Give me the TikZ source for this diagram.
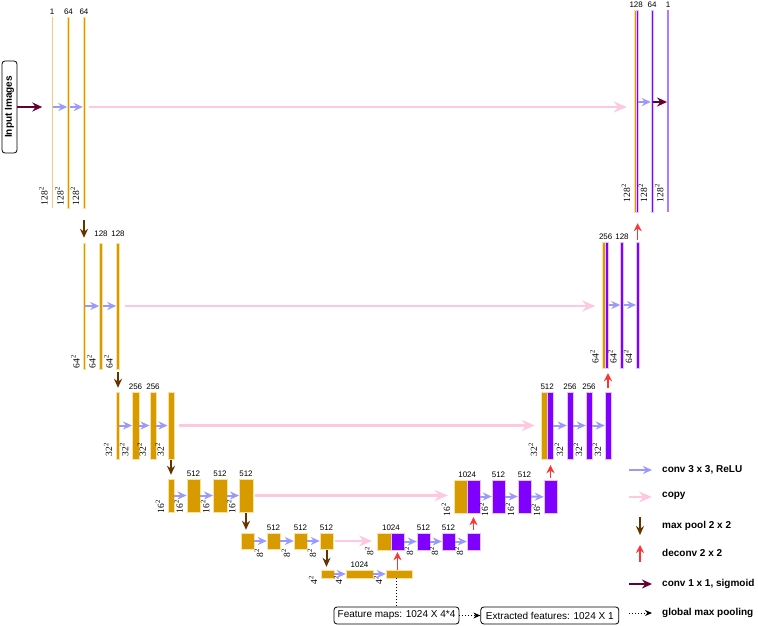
\documentclass[tikz,border=0pt]{standalone}
\usepackage{fontspec}
\setmainfont{Liberation Sans}
\newfontfamily\szfont{Liberation Serif}
\usetikzlibrary{arrows.meta,positioning,calc}
\definecolor{encfill}{RGB}{215,155,0}
\definecolor{encline}{RGB}{250,225,160}
\definecolor{enclight}{RGB}{236,205,120}
\definecolor{decfill}{RGB}{127,0,255}
\definecolor{decline}{RGB}{225,195,255}
\definecolor{declight}{RGB}{180,120,255}
\definecolor{convcol}{RGB}{153,153,255}
\definecolor{skipcol}{RGB}{255,200,225}
\definecolor{poolcol}{RGB}{102,51,0}
\definecolor{upcol}{RGB}{255,51,51}
\definecolor{sigcol}{RGB}{102,0,51}
\newcommand{\sizelab}[3]{\node[sz] (#1-sz) at ($(#1.south west)+(-3.5,#3)$) {#2\textsuperscript{2}};}

\begin{document}
\begin{tikzpicture}[x=1pt,y=-1pt,
  enc/.style={fill=encfill,draw=encline,line width=0.4pt,inner sep=0pt},
  dec/.style={fill=decfill,draw=decline,line width=0.4pt,inner sep=0pt},
  num/.style={font=\fontsize{8}{8}\selectfont,inner sep=1pt},
  sz/.style={font=\szfont\fontsize{9.5}{10}\selectfont,rotate=90,anchor=south west,inner sep=0pt},
  conv/.style={convcol,line width=2pt,-{Stealth[length=9pt,width=8pt]}},
  skip/.style={skipcol,line width=2.5pt,-{Stealth[length=13pt,width=11pt]}},
  pool/.style={poolcol,line width=2pt,-{Stealth[length=9pt,width=8pt]}},
  upconv/.style={upcol,line width=1.5pt,-{Stealth[length=8pt,width=8pt]}},
  sigm/.style={sigcol,line width=2pt,-{Stealth[length=10pt,width=9pt]}},
  gmp/.style={black,line width=1pt,dotted,-{Stealth[length=7pt,width=6pt]}},
  box/.style={draw,rounded corners=3pt,line width=0.8pt,minimum height=17pt,inner sep=2pt,font=\fontsize{10}{10}\selectfont},
  legend/.style={anchor=west,font=\bfseries\fontsize{10}{10}\selectfont,inner sep=0pt}]
  \useasboundingbox (0,0) rectangle (758,626);

  % input
  \node[draw,rounded corners=3pt,line width=0.8pt,minimum width=15pt,minimum height=92pt,inner sep=0pt,
        font=\bfseries\fontsize{10}{10}\selectfont] (inp) at (9.5,107) {\rotatebox{90}{Input Images}};
  \coordinate (row1r) at (0,102);

  % level 128
  \node[enc,fill=enclight,draw=none,minimum width=1pt,minimum height=191pt] (a1) at (52,112.5) {};
  \node[enc,minimum width=2pt,minimum height=191pt] (a2) at (68.5,112.5) {};
  \node[enc,minimum width=2pt,minimum height=191pt] (a3) at (84,112.5) {};
  \node[enc,minimum width=2pt,minimum height=202pt] (o1) at (635,111) {};
  \node[dec,minimum width=2pt,minimum height=202pt] (p1) at (637,111) {};
  \node[dec,minimum width=2pt,minimum height=202pt] (p2) at (652,111) {};
  \node[dec,fill=declight,draw=none,minimum width=1.5pt,minimum height=202pt] (p3) at (668,111) {};

  % level 64
  \node[enc,minimum width=1.5pt,minimum height=126pt] (b1) at (84.3,306) {};
  \node[enc,minimum width=3pt,minimum height=126pt] (b2) at (101,306) {};
  \node[enc,minimum width=3pt,minimum height=126pt] (b3) at (118,306) {};
  \node[enc,minimum width=3pt,minimum height=126pt] (o2) at (604,305) {};
  \node[dec,minimum width=3pt,minimum height=126pt] (q1) at (607,305) {};
  \node[dec,minimum width=3pt,minimum height=126pt] (q2) at (622,305) {};
  \node[dec,minimum width=3pt,minimum height=126pt] (q3) at (637.7,305) {};

  % level 32
  \node[enc,minimum width=3pt,minimum height=67pt] (c1) at (117.7,425.5) {};
  \node[enc,minimum width=6.5pt,minimum height=67pt] (c2) at (135.5,425.5) {};
  \node[enc,minimum width=6.5pt,minimum height=67pt] (c3) at (153,425.5) {};
  \node[enc,minimum width=6.5pt,minimum height=67pt] (c4) at (171,425.5) {};
  \node[enc,minimum width=6pt,minimum height=67pt] (o3) at (544,425.5) {};
  \node[dec,minimum width=6pt,minimum height=67pt] (r1) at (550,425.5) {};
  \node[dec,minimum width=6pt,minimum height=67pt] (r2) at (570,425.5) {};
  \node[dec,minimum width=6pt,minimum height=67pt] (r3) at (589,425.5) {};
  \node[dec,minimum width=6pt,minimum height=67pt] (r4) at (608,425.5) {};

  % level 16
  \node[enc,minimum width=6pt,minimum height=33pt] (d1) at (171,495.5) {};
  \node[enc,minimum width=13.5pt,minimum height=33pt] (d2) at (193.5,495.5) {};
  \node[enc,minimum width=13.5pt,minimum height=33pt] (d3) at (220,495.5) {};
  \node[enc,minimum width=13.5pt,minimum height=33pt] (d4) at (246,495.5) {};
  \node[enc,minimum width=13pt,minimum height=33pt] (o4) at (460.5,496.5) {};
  \node[dec,minimum width=13pt,minimum height=33pt] (s1) at (473.5,496.5) {};
  \node[dec,minimum width=13pt,minimum height=33pt] (s2) at (498.5,496.5) {};
  \node[dec,minimum width=13pt,minimum height=33pt] (s3) at (524.5,496.5) {};
  \node[dec,minimum width=13pt,minimum height=33pt] (s4) at (550.5,497) {};

  % level 8
  \node[enc,minimum width=13pt,minimum height=16pt] (e1) at (247.5,541) {};
  \node[enc,minimum width=13pt,minimum height=16pt] (e2) at (273.5,541) {};
  \node[enc,minimum width=13pt,minimum height=16pt] (e3) at (300.5,541) {};
  \node[enc,minimum width=13pt,minimum height=16pt] (e4) at (326.5,541) {};
  \node[enc,minimum width=13.5pt,minimum height=17pt] (o5) at (384,541.5) {};
  \node[dec,minimum width=13.5pt,minimum height=17pt] (t1) at (397.5,541.5) {};
  \node[dec,minimum width=13pt,minimum height=17pt] (t2) at (423.5,541.5) {};
  \node[dec,minimum width=13pt,minimum height=17pt] (t3) at (448.5,541.5) {};
  \node[dec,minimum width=13pt,minimum height=17pt] (t4) at (473.5,541.5) {};

  % level 4
  \node[enc,minimum width=13pt,minimum height=8pt] (f1) at (327.5,574) {};
  \node[enc,minimum width=27pt,minimum height=8pt] (f2) at (359.5,574) {};
  \node[enc,minimum width=26pt,minimum height=8pt] (f3) at (399,574) {};

  % channel numbers
  \node[num,above=1.5pt of a1] (a1-n) {1};
  \node[num,above=1.5pt of a2] (a2-n) {64};
  \node[num,above=1.5pt of a3] (a3-n) {64};
  \node[num,above=1.5pt of o1.north east] (o1-n) {128};
  \node[num,above=1.5pt of p2] (p2-n) {64};
  \node[num,above=1.5pt of p3] (p3-n) {1};
  \node[num,above=5.5pt of b2] (b2-n) {128};
  \node[num,above=5.5pt of b3] (b3-n) {128};
  \node[num,above=1.5pt of o2.north east] (o2-n) {256};
  \node[num,above=1.5pt of q2] (q2-n) {128};
  \node[num,above=1.5pt of c2] (c2-n) {256};
  \node[num,above=1.5pt of c3] (c3-n) {256};
  \node[num,above=1.5pt of o3.north east] (o3-n) {512};
  \node[num,above=1.5pt of r2] (r2-n) {256};
  \node[num,above=1.5pt of r3] (r3-n) {256};
  \node[num,above=1.5pt of d2] (d2-n) {512};
  \node[num,above=1.5pt of d3] (d3-n) {512};
  \node[num,above=1.5pt of d4] (d4-n) {512};
  \node[num,above=1.5pt of o4.north east] (o4-n) {1024};
  \node[num,above=1.5pt of s2] (s2-n) {512};
  \node[num,above=1.5pt of s3] (s3-n) {512};
  \node[num,above=1.5pt of e2] (e2-n) {512};
  \node[num,above=1.5pt of e3] (e3-n) {512};
  \node[num,above=1.5pt of e4] (e4-n) {512};
  \node[num,above=1.5pt of o5.north east] (o5-n) {1024};
  \node[num,above=1.5pt of t2] (t2-n) {512};
  \node[num,above=1.5pt of t3] (t3-n) {512};
  \node[num,above=1.5pt of f2] (f2-n) {1024};

  % map sizes
  \sizelab{a1}{128}{-3} \sizelab{a2}{128}{-3} \sizelab{a3}{128}{-3}
  \sizelab{o1}{128}{-10} \sizelab{p2}{128}{-10} \sizelab{p3}{128}{-10}
  \sizelab{b1}{64}{-1} \sizelab{b2}{64}{-1} \sizelab{b3}{64}{-1}
  \sizelab{o2}{64}{-5} \sizelab{q2}{64}{-5} \sizelab{q3}{64}{-5}
  \sizelab{c1}{32}{-3} \sizelab{c2}{32}{-3} \sizelab{c3}{32}{-3} \sizelab{c4}{32}{-3}
  \sizelab{o3}{32}{-3} \sizelab{r2}{32}{-3} \sizelab{r3}{32}{-3} \sizelab{r4}{32}{-3}
  \sizelab{d1}{16}{1} \sizelab{d2}{16}{1} \sizelab{d3}{16}{1} \sizelab{d4}{16}{1}
  \sizelab{o4}{16}{3} \sizelab{s2}{16}{3} \sizelab{s3}{16}{3} \sizelab{s4}{16}{3}
  \sizelab{e2}{8}{8} \sizelab{e3}{8}{8} \sizelab{e4}{8}{8}
  \sizelab{o5}{8}{5} \sizelab{t2}{8}{5} \sizelab{t3}{8}{5} \sizelab{t4}{8}{5}
  \sizelab{f1}{4}{6} \sizelab{f2}{4}{6} \sizelab{f3}{4}{6}

  % copies
  \draw[skip,shorten <=4pt,shorten >=7pt] (inp.east -| a3.east) -- (inp.east -| o1.west);
  \draw[skip,shorten <=5pt,shorten >=7pt] (b3.east) -- (b3.east -| o2.west);
  \draw[skip,shorten <=5pt,shorten >=6pt] (c4.east) -- (c4.east -| o3.west);
  \draw[skip,shorten <=2pt,shorten >=6pt] (d4.east) -- (d4.east -| o4.west);
  \draw[skip,shorten <=2pt,shorten >=5pt] (e4.east) -- (e4.east -| o5.west);

  % convolutions
  \draw[sigm,shorten >=9pt] (inp.east) -- (inp.east -| a1.west);
  \draw[conv] (inp.east -| a1.east) -- (inp.east -| a2.west);
  \draw[conv] (inp.east -| a2.east) -- (inp.east -| a3.west);
  \draw[conv] (row1r -| p1.east) -- (row1r -| p2.west);
  \draw[sigm] (row1r -| p2.east) -- (row1r -| p3.west);
  \draw[conv] (b1) -- (b2);
  \draw[conv] (b2) -- (b3);
  \draw[conv] (q1) -- (q2);
  \draw[conv] (q2) -- (q3);
  \draw[conv] (c1) -- (c2);
  \draw[conv] (c2) -- (c3);
  \draw[conv] (c3) -- (c4);
  \draw[conv] (r1) -- (r2);
  \draw[conv] (r2) -- (r3);
  \draw[conv] (r3) -- (r4);
  \draw[conv] (d1) -- (d2);
  \draw[conv] (d2) -- (d3);
  \draw[conv] (d3) -- (d4);
  \draw[conv] (s1) -- (s2);
  \draw[conv] (s2) -- (s3);
  \draw[conv] (s3) -- (s4);
  \draw[conv] (e1) -- (e2);
  \draw[conv] (e2) -- (e3);
  \draw[conv] (e3) -- (e4);
  \draw[conv] (t1) -- (t2);
  \draw[conv] (t2) -- (t3);
  \draw[conv] (t3) -- (t4);
  \draw[conv] (f1) -- (f2);
  \draw[conv] (f2) -- (f3);

  % pooling
  \draw[pool,shorten <=12pt,shorten >=5pt] (a3.south) -- (a3.south |- b1.north);
  \draw[pool,shorten <=3pt,shorten >=4pt] (b3.south) -- (b3.south |- c1.north);
  \draw[pool,shorten <=1pt,shorten >=4pt] (c4.south) -- (c4.south |- d1.north);
  \draw[pool,shorten <=1pt,shorten >=3pt] (d4.south) -- (d4.south |- e1.north);
  \draw[pool,shorten <=1pt,shorten >=3pt] (e4.south) -- (e4.south |- f1.north);

  % up-convolutions
  \draw[upconv,shorten <=2pt,shorten >=11pt] (q3.north) -- (q3.north |- p1.south);
  \draw[upconv,shorten <=4pt,shorten >=5pt] (r4.north) -- (r4.north |- q1.south);
  \draw[upconv,shorten <=2pt,shorten >=6pt] (s4.north) -- (s4.north |- r1.south);
  \draw[upconv,shorten <=3pt,shorten >=4pt] (t4.north) -- (t4.north |- s1.south);
  \draw[upconv,shorten <=0pt,shorten >=2pt] (t1.south |- f3.north) -- (t1.south);

  % features
  \node[box,minimum width=125pt] (fmap) at (396.5,615.5) {Feature maps: 1024 X 4*4};
  \node[box,minimum width=138pt,right=21pt of fmap] (efeat) {Extracted features: 1024 X 1};
  \draw[black,line width=1pt,dotted] (fmap.north |- f3.south) -- (fmap.north);
  \draw[gmp] (fmap) -- (efeat);

  % legend
  \node[legend] (lg1) at (662,470) {conv 3 x 3, ReLU};
  \node[legend] (lg2) at (662,496) {copy};
  \node[legend] (lg3) at (662,526) {max pool 2 x 2};
  \node[legend] (lg4) at (662,553) {deconv 2 x 2};
  \node[legend] (lg5) at (662,584) {conv 1 x 1, sigmoid};
  \node[legend] (lg6) at (662,613) {global max pooling};
  \draw[conv] ([xshift=-33pt]lg1.west) -- ([xshift=-10pt]lg1.west);
  \draw[skip] ([xshift=-33pt,yshift=-1pt]lg2.west) -- ([xshift=-10pt,yshift=-1pt]lg2.west);
  \draw[pool] ([xshift=-22pt,yshift=9pt]lg3.west) -- ([xshift=-22pt,yshift=-9pt]lg3.west);
  \draw[upconv] ([xshift=-22pt,yshift=-9pt]lg4.west) -- ([xshift=-22pt,yshift=8pt]lg4.west);
  \draw[sigm] ([xshift=-33pt]lg5.west) -- ([xshift=-10pt]lg5.west);
  \draw[gmp] ([xshift=-33pt]lg6.west) -- ([xshift=-10pt]lg6.west);
\end{tikzpicture}
\end{document}
